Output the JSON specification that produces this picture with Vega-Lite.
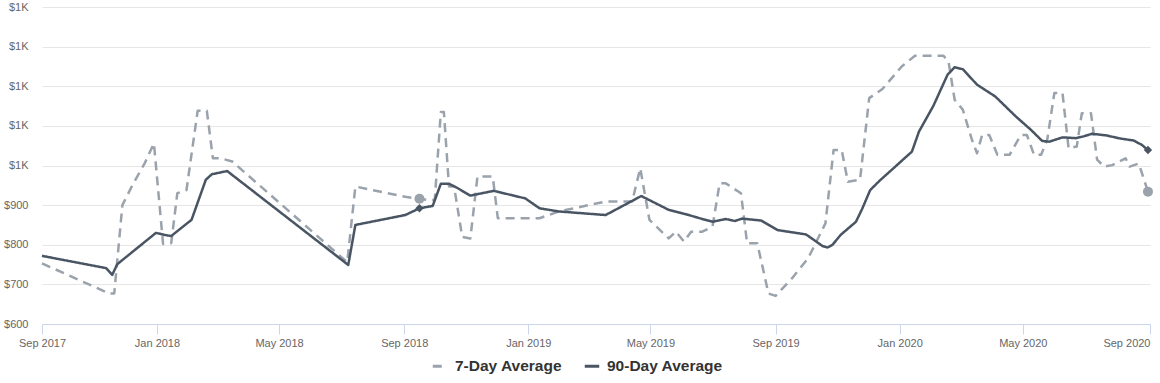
{
  "$schema": "https://vega.github.io/schema/vega-lite/v6.json",
  "width": 1108,
  "height": 317,
  "autosize": {"type": "none"},
  "padding": {"left": 42, "top": 7, "right": 10, "bottom": 59},
  "background": "white",
  "config": {"view": {"stroke": null}, "font": "Liberation Sans"},
  "datasets": {
    "main": [
      {"date": "2017-09-10", "series": "7-Day Average", "value": 753},
      {"date": "2017-11-15", "series": "7-Day Average", "value": 677},
      {"date": "2017-11-20", "series": "7-Day Average", "value": 677},
      {"date": "2017-11-28", "series": "7-Day Average", "value": 900},
      {"date": "2017-12-08", "series": "7-Day Average", "value": 951},
      {"date": "2017-12-20", "series": "7-Day Average", "value": 1006},
      {"date": "2017-12-29", "series": "7-Day Average", "value": 1056},
      {"date": "2018-01-07", "series": "7-Day Average", "value": 802},
      {"date": "2018-01-15", "series": "7-Day Average", "value": 804},
      {"date": "2018-01-21", "series": "7-Day Average", "value": 930},
      {"date": "2018-01-30", "series": "7-Day Average", "value": 938},
      {"date": "2018-02-10", "series": "7-Day Average", "value": 1138},
      {"date": "2018-02-19", "series": "7-Day Average", "value": 1138},
      {"date": "2018-02-25", "series": "7-Day Average", "value": 1018},
      {"date": "2018-03-05", "series": "7-Day Average", "value": 1018},
      {"date": "2018-03-16", "series": "7-Day Average", "value": 1010},
      {"date": "2018-07-07", "series": "7-Day Average", "value": 756},
      {"date": "2018-07-15", "series": "7-Day Average", "value": 947},
      {"date": "2018-09-02", "series": "7-Day Average", "value": 921},
      {"date": "2018-09-16", "series": "7-Day Average", "value": 916},
      {"date": "2018-09-24", "series": "7-Day Average", "value": 913},
      {"date": "2018-10-01", "series": "7-Day Average", "value": 913},
      {"date": "2018-10-07", "series": "7-Day Average", "value": 1135},
      {"date": "2018-10-10", "series": "7-Day Average", "value": 1135},
      {"date": "2018-10-15", "series": "7-Day Average", "value": 947},
      {"date": "2018-10-20", "series": "7-Day Average", "value": 947},
      {"date": "2018-10-28", "series": "7-Day Average", "value": 820},
      {"date": "2018-11-05", "series": "7-Day Average", "value": 816},
      {"date": "2018-11-12", "series": "7-Day Average", "value": 972},
      {"date": "2018-11-27", "series": "7-Day Average", "value": 972},
      {"date": "2018-12-02", "series": "7-Day Average", "value": 867},
      {"date": "2019-01-12", "series": "7-Day Average", "value": 867},
      {"date": "2019-01-31", "series": "7-Day Average", "value": 884},
      {"date": "2019-03-18", "series": "7-Day Average", "value": 909},
      {"date": "2019-04-13", "series": "7-Day Average", "value": 909},
      {"date": "2019-04-21", "series": "7-Day Average", "value": 993},
      {"date": "2019-04-30", "series": "7-Day Average", "value": 863},
      {"date": "2019-05-19", "series": "7-Day Average", "value": 816},
      {"date": "2019-05-26", "series": "7-Day Average", "value": 833},
      {"date": "2019-06-03", "series": "7-Day Average", "value": 808},
      {"date": "2019-06-10", "series": "7-Day Average", "value": 833},
      {"date": "2019-06-21", "series": "7-Day Average", "value": 833},
      {"date": "2019-07-01", "series": "7-Day Average", "value": 846},
      {"date": "2019-07-08", "series": "7-Day Average", "value": 955},
      {"date": "2019-07-14", "series": "7-Day Average", "value": 955},
      {"date": "2019-07-29", "series": "7-Day Average", "value": 930},
      {"date": "2019-08-04", "series": "7-Day Average", "value": 804},
      {"date": "2019-08-14", "series": "7-Day Average", "value": 804},
      {"date": "2019-08-25", "series": "7-Day Average", "value": 677},
      {"date": "2019-09-01", "series": "7-Day Average", "value": 671},
      {"date": "2019-09-17", "series": "7-Day Average", "value": 715},
      {"date": "2019-10-03", "series": "7-Day Average", "value": 766},
      {"date": "2019-10-20", "series": "7-Day Average", "value": 854},
      {"date": "2019-10-28", "series": "7-Day Average", "value": 1039},
      {"date": "2019-11-05", "series": "7-Day Average", "value": 1039},
      {"date": "2019-11-11", "series": "7-Day Average", "value": 959},
      {"date": "2019-11-23", "series": "7-Day Average", "value": 964},
      {"date": "2019-12-02", "series": "7-Day Average", "value": 1170},
      {"date": "2019-12-15", "series": "7-Day Average", "value": 1193},
      {"date": "2020-01-03", "series": "7-Day Average", "value": 1250},
      {"date": "2020-01-16", "series": "7-Day Average", "value": 1277},
      {"date": "2020-02-13", "series": "7-Day Average", "value": 1277},
      {"date": "2020-02-18", "series": "7-Day Average", "value": 1262},
      {"date": "2020-02-24", "series": "7-Day Average", "value": 1166},
      {"date": "2020-03-03", "series": "7-Day Average", "value": 1141},
      {"date": "2020-03-12", "series": "7-Day Average", "value": 1065},
      {"date": "2020-03-17", "series": "7-Day Average", "value": 1031},
      {"date": "2020-03-22", "series": "7-Day Average", "value": 1077},
      {"date": "2020-03-29", "series": "7-Day Average", "value": 1077},
      {"date": "2020-04-06", "series": "7-Day Average", "value": 1027},
      {"date": "2020-04-18", "series": "7-Day Average", "value": 1027},
      {"date": "2020-04-29", "series": "7-Day Average", "value": 1077},
      {"date": "2020-05-05", "series": "7-Day Average", "value": 1077},
      {"date": "2020-05-12", "series": "7-Day Average", "value": 1027},
      {"date": "2020-05-19", "series": "7-Day Average", "value": 1027},
      {"date": "2020-05-25", "series": "7-Day Average", "value": 1065},
      {"date": "2020-06-01", "series": "7-Day Average", "value": 1183},
      {"date": "2020-06-09", "series": "7-Day Average", "value": 1183},
      {"date": "2020-06-15", "series": "7-Day Average", "value": 1043},
      {"date": "2020-06-23", "series": "7-Day Average", "value": 1048},
      {"date": "2020-06-28", "series": "7-Day Average", "value": 1132},
      {"date": "2020-07-07", "series": "7-Day Average", "value": 1132},
      {"date": "2020-07-13", "series": "7-Day Average", "value": 1015},
      {"date": "2020-07-20", "series": "7-Day Average", "value": 997},
      {"date": "2020-07-28", "series": "7-Day Average", "value": 1001},
      {"date": "2020-08-10", "series": "7-Day Average", "value": 1018},
      {"date": "2020-08-14", "series": "7-Day Average", "value": 997},
      {"date": "2020-08-23", "series": "7-Day Average", "value": 1005},
      {"date": "2020-09-01", "series": "7-Day Average", "value": 934},
      {"date": "2017-09-10", "series": "90-Day Average", "value": 772},
      {"date": "2017-11-12", "series": "90-Day Average", "value": 741},
      {"date": "2017-11-18", "series": "90-Day Average", "value": 724},
      {"date": "2017-11-23", "series": "90-Day Average", "value": 751},
      {"date": "2017-12-31", "series": "90-Day Average", "value": 830},
      {"date": "2018-01-08", "series": "90-Day Average", "value": 825},
      {"date": "2018-01-15", "series": "90-Day Average", "value": 822},
      {"date": "2018-02-04", "series": "90-Day Average", "value": 863},
      {"date": "2018-02-18", "series": "90-Day Average", "value": 964},
      {"date": "2018-02-24", "series": "90-Day Average", "value": 978},
      {"date": "2018-03-11", "series": "90-Day Average", "value": 986},
      {"date": "2018-07-08", "series": "90-Day Average", "value": 749},
      {"date": "2018-07-15", "series": "90-Day Average", "value": 850},
      {"date": "2018-09-02", "series": "90-Day Average", "value": 875},
      {"date": "2018-09-16", "series": "90-Day Average", "value": 892},
      {"date": "2018-09-29", "series": "90-Day Average", "value": 898},
      {"date": "2018-10-07", "series": "90-Day Average", "value": 954},
      {"date": "2018-10-15", "series": "90-Day Average", "value": 954},
      {"date": "2018-10-22", "series": "90-Day Average", "value": 945},
      {"date": "2018-11-05", "series": "90-Day Average", "value": 924},
      {"date": "2018-11-28", "series": "90-Day Average", "value": 936},
      {"date": "2018-12-29", "series": "90-Day Average", "value": 917},
      {"date": "2019-01-12", "series": "90-Day Average", "value": 892},
      {"date": "2019-01-31", "series": "90-Day Average", "value": 884},
      {"date": "2019-03-18", "series": "90-Day Average", "value": 875},
      {"date": "2019-04-22", "series": "90-Day Average", "value": 923},
      {"date": "2019-05-19", "series": "90-Day Average", "value": 888},
      {"date": "2019-06-05", "series": "90-Day Average", "value": 877},
      {"date": "2019-06-21", "series": "90-Day Average", "value": 865},
      {"date": "2019-07-01", "series": "90-Day Average", "value": 858},
      {"date": "2019-07-14", "series": "90-Day Average", "value": 865},
      {"date": "2019-07-23", "series": "90-Day Average", "value": 860},
      {"date": "2019-07-30", "series": "90-Day Average", "value": 866},
      {"date": "2019-08-18", "series": "90-Day Average", "value": 861},
      {"date": "2019-09-03", "series": "90-Day Average", "value": 837},
      {"date": "2019-10-01", "series": "90-Day Average", "value": 826},
      {"date": "2019-10-17", "series": "90-Day Average", "value": 797},
      {"date": "2019-10-22", "series": "90-Day Average", "value": 793},
      {"date": "2019-10-27", "series": "90-Day Average", "value": 800},
      {"date": "2019-11-04", "series": "90-Day Average", "value": 825},
      {"date": "2019-11-19", "series": "90-Day Average", "value": 858},
      {"date": "2019-11-25", "series": "90-Day Average", "value": 890},
      {"date": "2019-12-03", "series": "90-Day Average", "value": 938},
      {"date": "2019-12-12", "series": "90-Day Average", "value": 961},
      {"date": "2020-01-13", "series": "90-Day Average", "value": 1035},
      {"date": "2020-01-20", "series": "90-Day Average", "value": 1086},
      {"date": "2020-02-03", "series": "90-Day Average", "value": 1150},
      {"date": "2020-02-17", "series": "90-Day Average", "value": 1229},
      {"date": "2020-02-24", "series": "90-Day Average", "value": 1248},
      {"date": "2020-03-03", "series": "90-Day Average", "value": 1243},
      {"date": "2020-03-17", "series": "90-Day Average", "value": 1204},
      {"date": "2020-04-04", "series": "90-Day Average", "value": 1174},
      {"date": "2020-04-24", "series": "90-Day Average", "value": 1124},
      {"date": "2020-05-09", "series": "90-Day Average", "value": 1090},
      {"date": "2020-05-20", "series": "90-Day Average", "value": 1062},
      {"date": "2020-05-27", "series": "90-Day Average", "value": 1060},
      {"date": "2020-06-09", "series": "90-Day Average", "value": 1071},
      {"date": "2020-06-22", "series": "90-Day Average", "value": 1069},
      {"date": "2020-06-29", "series": "90-Day Average", "value": 1073},
      {"date": "2020-07-08", "series": "90-Day Average", "value": 1080},
      {"date": "2020-07-22", "series": "90-Day Average", "value": 1076},
      {"date": "2020-08-05", "series": "90-Day Average", "value": 1068},
      {"date": "2020-08-18", "series": "90-Day Average", "value": 1063},
      {"date": "2020-08-26", "series": "90-Day Average", "value": 1052},
      {"date": "2020-09-01", "series": "90-Day Average", "value": 1039}
    ],
    "markers": [
      {"date": "2018-09-16", "series": "7-Day Average", "value": 916},
      {"date": "2020-09-01", "series": "7-Day Average", "value": 934},
      {"date": "2018-09-16", "series": "90-Day Average", "value": 892},
      {"date": "2020-09-01", "series": "90-Day Average", "value": 1039}
    ]
  },
  "encoding": {
    "x": {
      "field": "date", "type": "temporal", "title": null,
      "scale": {"type": "utc", "domain": [{"year": 2017, "month": 9, "date": 10, "utc": true}, {"year": 2020, "month": 9, "date": 3, "utc": true}]},
      "axis": {
        "values": [
          {"year": 2017, "month": 9, "date": 10, "utc": true},
          {"year": 2018, "month": 1, "date": 1, "utc": true},
          {"year": 2018, "month": 5, "date": 1, "utc": true},
          {"year": 2018, "month": 9, "date": 1, "utc": true},
          {"year": 2019, "month": 1, "date": 1, "utc": true},
          {"year": 2019, "month": 5, "date": 1, "utc": true},
          {"year": 2019, "month": 9, "date": 1, "utc": true},
          {"year": 2020, "month": 1, "date": 1, "utc": true},
          {"year": 2020, "month": 5, "date": 1, "utc": true},
          {"year": 2020, "month": 9, "date": 3, "utc": true}
        ],
        "labelExpr": "utcFormat(datum.value, '%b %Y')",
        "grid": false,
        "domainColor": "#ccd6eb",
        "tickColor": "#ccd6eb",
        "tickSize": 10,
        "labelPadding": 3,
        "labelColor": "#666666",
        "labelFontSize": 11,
        "labelFont": "Liberation Sans",
        "labelOverlap": false,
        "labelBound": false,
        "labelFlush": false,
        "labelAlign": {"condition": {"test": "datum.value > utc(2020, 6, 1)", "value": "right"}, "value": "center"}
      }
    },
    "y": {
      "field": "value", "type": "quantitative", "title": null,
      "scale": {"domain": [600, 1400], "nice": false, "zero": false},
      "axis": {
        "values": [600, 700, 800, 900, 1000, 1100, 1200, 1300, 1400],
        "labelExpr": "datum.value < 1000 ? '$' + datum.value : '$' + round(datum.value / 1000) + 'K'",
        "labelOverlap": false,
        "domain": false,
        "ticks": false,
        "labelPadding": 14,
        "labelColor": "#666666",
        "labelFontSize": 11,
        "labelFont": "Liberation Sans",
        "gridColor": "#e6e6e6",
        "gridWidth": 1
      }
    }
  },
  "layer": [
    {
      "data": {"name": "main"},
      "mark": {"type": "line", "strokeWidth": 2.5, "strokeJoin": "round"},
      "encoding": {
        "color": {
          "field": "series", "type": "nominal",
          "scale": {"domain": ["7-Day Average", "90-Day Average"], "range": ["#9aa2ac", "#4a5564"]},
          "legend": {
            "title": null, "orient": "none", "legendX": 389, "legendY": 350, "direction": "horizontal",
            "symbolType": "stroke", "symbolSize": 210, "symbolStrokeWidth": 3,
            "labelFontSize": 15.5, "labelFontWeight": "bold", "labelColor": "#333333", "labelFont": "Liberation Sans",
            "labelOffset": 6, "columnPadding": 15
          }
        },
        "strokeDash": {
          "field": "series", "type": "nominal",
          "scale": {"domain": ["7-Day Average", "90-Day Average"], "range": [[9, 6], [1, 0]]},
          "legend": {
            "title": null, "orient": "none", "legendX": 389, "legendY": 350, "direction": "horizontal",
            "symbolType": "stroke", "symbolSize": 210, "symbolStrokeWidth": 3,
            "labelFontSize": 15.5, "labelFontWeight": "bold", "labelColor": "#333333", "labelFont": "Liberation Sans",
            "labelOffset": 6, "columnPadding": 15
          }
        }
      }
    },
    {
      "data": {"name": "markers"},
      "transform": [{"filter": "datum.series == '7-Day Average'"}],
      "mark": {"type": "point", "shape": "circle", "filled": true, "size": 100, "color": "#9aa2ac", "opacity": 1}
    },
    {
      "data": {"name": "markers"},
      "transform": [{"filter": "datum.series == '90-Day Average'"}],
      "mark": {"type": "point", "shape": "diamond", "filled": true, "size": 70, "color": "#4a5564", "opacity": 1}
    }
  ]
}
